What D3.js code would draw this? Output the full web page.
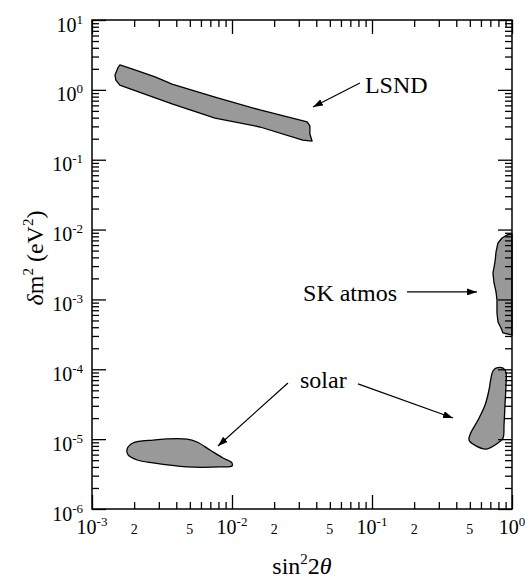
<!DOCTYPE html>
<html>
<head>
<meta charset="utf-8">
<script src="https://cdn.jsdelivr.net/npm/d3@7"></script>
<style>
  body { margin: 0; background: #fff; }
  text { font-family: "Liberation Serif", "DejaVu Serif", serif; fill: #000; }
</style>
</head>
<body>
<svg id="chart" width="525" height="579"></svg>
<script>

// allowed regions, each point is [sin^2 2theta, dm^2 (eV^2)]
var lsndRegion = [
    [1.58e-3, 2.27], [1.93e-3, 1.99], [2.82e-3, 1.53], [3.73e-3, 1.21],
    [7.56e-3, 0.79], [1.585e-2, 0.515], [3.44e-2, 0.347], [3.6e-2, 0.304],
    [3.6e-2, 0.233], [3.73e-2, 0.185], [3.2e-2, 0.191], [1.585e-2, 0.294],
    [7.56e-3, 0.395], [3.73e-3, 0.628], [1.81e-3, 1.06], [1.58e-3, 1.17],
    [1.48e-3, 1.38], [1.46e-3, 1.63], [1.53e-3, 2.06]
];
var skAtmosRegion = [
    [1.0, 8.65e-3], [0.92, 8.36e-3], [0.849, 7.57e-3], [0.794, 6.43e-3],
    [0.769, 4.78e-3], [0.756, 3.44e-3], [0.731, 2.39e-3], [0.744, 1.72e-3],
    [0.769, 1.28e-3], [0.781, 9.8e-4], [0.781, 7.8e-4], [0.781, 6.4e-4],
    [0.794, 4.75e-4], [0.834, 3.9e-4], [0.863, 3.31e-4], [1.0, 3.1e-4]
];
var solarSmallAngle = [
    [1.78e-3, 7.2e-6], [1.96e-3, 8.8e-6], [2.73e-3, 9.7e-6], [4.77e-3, 1.0e-5],
    [5.62e-3, 9.1e-6], [6.96e-3, 7.0e-6], [8.63e-3, 5.37e-6], [1.0e-2, 4.56e-6],
    [1.0e-2, 4.13e-6], [8.2e-3, 4.0e-6], [4.77e-3, 4.0e-6], [2.73e-3, 4.56e-6],
    [2.1e-3, 5.03e-6], [1.81e-3, 5.93e-6]
];
var solarLargeAngle = [
    [0.769, 1.04e-4], [0.863, 1.04e-4], [0.906, 9.1e-5], [0.906, 5.96e-5],
    [0.891, 3.08e-5], [0.877, 1.6e-5], [0.863, 1.04e-5], [0.794, 8.8e-6],
    [0.652, 7.2e-6], [0.553, 8.0e-6], [0.493, 9.7e-6], [0.507, 1.22e-5],
    [0.572, 1.88e-5], [0.642, 3.08e-5], [0.685, 5.06e-5], [0.708, 7.5e-5],
    [0.731, 9.45e-5]
];

// labels and arrows, [x, y] in data units
var annotLabels = ["LSND", "SK atmos", "solar"];
var annotTextPos = [[0.089, 0.902], [0.151, 9.5e-4], [0.0306, 5.4e-5]];
var annotArrows = [
    [[0.082, 1.25], [0.0379, 0.569]],
    [[0.178, 1.28e-3], [0.562, 1.28e-3]],
    [[0.0251, 6.37e-5], [7.94e-3, 7.98e-6]],
    [[0.0794, 6.17e-5], [0.379, 2.01e-5]]
];

var xExponents = [-3, -2, -1, 0];
var yExponents = [1, 0, -1, -2, -3, -4, -5, -6];
var xMinorLabels = [2, 5];

var serif = "Liberation Serif, DejaVu Serif, serif";
var svg = d3.select("#chart");

var x = d3.scaleLog().domain([1e-3, 1]).range([92, 512]);
var y = d3.scaleLog().domain([1e-6, 10]).range([509, 20]);

var isMajor = function(v){
    var l = Math.log10(v);
    return Math.abs(l - Math.round(l)) < 1e-9;
};

var xAll = x.ticks();
var yAll = y.ticks();
var xMajor = xAll.filter(isMajor), xMinor = xAll.filter(function(v){ return !isMajor(v); });
var yMajor = yAll.filter(isMajor), yMinor = yAll.filter(function(v){ return !isMajor(v); });

// arrowhead
svg.append("defs").append("marker")
    .attr("id", "head")
    .attr("markerUnits", "userSpaceOnUse")
    .attr("markerWidth", 11).attr("markerHeight", 7)
    .attr("refX", 10).attr("refY", 3.5)
    .attr("orient", "auto")
    .append("path")
    .attr("d", "M0,0 L10,3.5 L0,7 Z")
    .attr("fill", "#000");

// regions
var line = d3.line()
    .x(function(d){ return x(d[0]); })
    .y(function(d){ return y(d[1]); });

var regions = [
    {pts: lsndRegion, curve: d3.curveLinearClosed},
    {pts: skAtmosRegion, curve: d3.curveLinearClosed},
    {pts: solarSmallAngle, curve: d3.curveCatmullRomClosed},
    {pts: solarLargeAngle, curve: d3.curveCatmullRomClosed}
];

svg.selectAll("path.region")
    .data(regions)
    .enter().append("path")
    .attr("class", "region")
    .attr("d", function(r){ return line.curve(r.curve)(r.pts); })
    .attr("fill", "#999")
    .attr("stroke", "#000")
    .attr("stroke-width", 1.3)
    .attr("stroke-linejoin", "round");

// ticks on all four sides, pointing inward
function addAxis(gen, tx, ty){
    var g = svg.append("g").attr("transform", "translate(" + tx + "," + ty + ")").call(gen);
    g.select(".domain").remove();
    g.selectAll("line").attr("stroke", "#000").attr("stroke-width", 1.3);
    g.selectAll("text").remove();
}
function sides(){
    return [
        [d3.axisLeft(y), 92, 0],
        [d3.axisRight(y), 512, 0],
        [d3.axisBottom(x), 0, 509],
        [d3.axisTop(x), 0, 20]
    ];
}
sides().forEach(function(s){
    var isY = (s[0].scale() === y);
    addAxis(s[0].tickValues(isY ? yMajor : xMajor).tickSize(-14).tickFormat(""), s[1], s[2]);
});
sides().forEach(function(s){
    var isY = (s[0].scale() === y);
    addAxis(s[0].tickValues(isY ? yMinor : xMinor).tickSize(-7).tickFormat(""), s[1], s[2]);
});

// frame
svg.append("rect")
    .attr("x", 92).attr("y", 20)
    .attr("width", 420).attr("height", 489)
    .attr("fill", "none")
    .attr("stroke", "#000")
    .attr("stroke-width", 1.5);

// y tick labels
yExponents.forEach(function(e){
    var t = svg.append("text")
        .attr("x", 83).attr("y", y(Math.pow(10, e)) + 11.5)
        .attr("text-anchor", "end")
        .attr("font-family", serif)
        .style("font-size", "20px");
    t.append("tspan").text("10");
    t.append("tspan").attr("dy", -8).style("font-size", "13px").text(e);
});

// x tick labels
xExponents.forEach(function(e){
    var t = svg.append("text")
        .attr("x", x(Math.pow(10, e))).attr("y", 534)
        .attr("text-anchor", "middle")
        .attr("font-family", serif)
        .style("font-size", "20px");
    t.append("tspan").text("10");
    t.append("tspan").attr("dy", -8).style("font-size", "13px").text(e);
});
xExponents.slice(0, 3).forEach(function(e){
    xMinorLabels.forEach(function(m){
        svg.append("text")
            .attr("x", x(m * Math.pow(10, e))).attr("y", 534)
            .attr("text-anchor", "middle")
            .attr("font-family", serif)
            .style("font-size", "14px")
            .text(m);
    });
});

// axis titles
var xt = svg.append("text")
    .attr("x", 302).attr("y", 574)
    .attr("text-anchor", "middle")
    .attr("font-family", serif)
    .style("font-size", "24px");
xt.append("tspan").text("sin");
xt.append("tspan").attr("dy", -10).style("font-size", "15px").text("2");
xt.append("tspan").attr("dy", 10).text("2");
xt.append("tspan").style("font-style", "italic").text("\u03b8");

var yt = svg.append("text")
    .attr("transform", "translate(43,258) rotate(-90)")
    .attr("text-anchor", "middle")
    .attr("font-family", serif)
    .style("font-size", "24px");
yt.append("tspan").style("font-style", "italic").text("\u03b4");
yt.append("tspan").text("m");
yt.append("tspan").attr("dy", -10).style("font-size", "15px").text("2");
yt.append("tspan").attr("dy", 10).text(" (eV");
yt.append("tspan").attr("dy", -10).style("font-size", "15px").text("2");
yt.append("tspan").attr("dy", 10).text(")");

// annotations
annotLabels.forEach(function(lbl, i){
    svg.append("text")
        .attr("x", x(annotTextPos[i][0])).attr("y", y(annotTextPos[i][1]))
        .attr("text-anchor", i === 1 ? "end" : "start")
        .attr("font-family", serif)
        .style("font-size", "24px")
        .text(lbl);
});

svg.selectAll("line.arrow")
    .data(annotArrows)
    .enter().append("line")
    .attr("class", "arrow")
    .attr("x1", function(d){ return x(d[0][0]); })
    .attr("y1", function(d){ return y(d[0][1]); })
    .attr("x2", function(d){ return x(d[1][0]); })
    .attr("y2", function(d){ return y(d[1][1]); })
    .attr("stroke", "#000")
    .attr("stroke-width", 1.2)
    .attr("marker-end", "url(#head)");

</script>
</body>
</html>
